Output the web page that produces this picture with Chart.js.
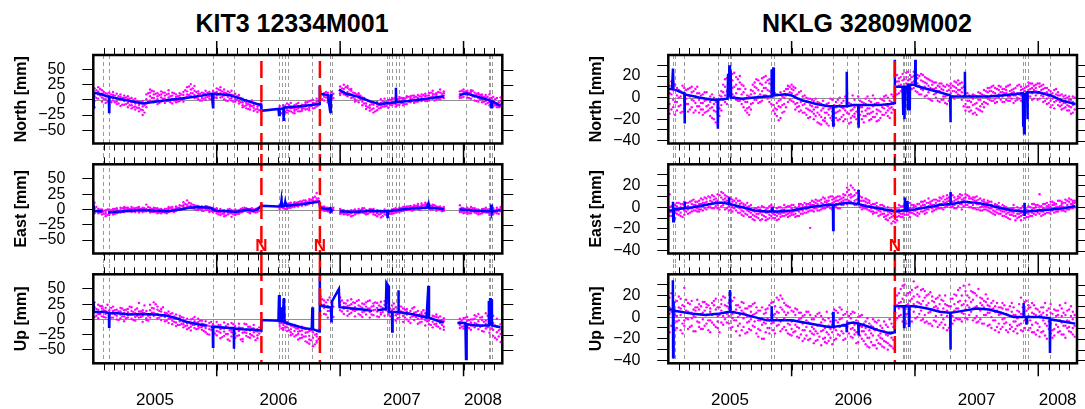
<!DOCTYPE html>
<html>
<head>
<meta charset="utf-8">
<script src="https://cdn.jsdelivr.net/npm/chart.js@4.4.1/dist/chart.umd.min.js"></script>
<style>
  body { margin: 0; background: #fff; width: 1085px; height: 409px; position: relative; overflow: hidden;
         font-family: "Liberation Sans", Arial, sans-serif; }
  .title { position: absolute; top: 9px; width: 400px; text-align: center; font-weight: bold;
           font-size: 25px; line-height: 28px; color: #000; }
  canvas { position: absolute; }
</style>
</head>
<body>
<div class="title" style="left:92px">KIT3 12334M001</div>
<div class="title" style="left:667px">NKLG 32809M002</div>
<script>
// ----- Axis data -----
const xStart = 2005.0;
const xEnd = 2008.314;
const yearLabels = ["2005", "2006", "2007", "2008"];
const yearLabelPos = [2005.5, 2006.5, 2007.5, 2008.157];
const yearLines = [2006, 2007, 2008];

const kitYTicks = [-50, -25, 0, 25, 50];
const kitYLabels = [-50, -25, 0, 25, 50];
const nklgYTicks = [-40, -30, -20, -10, 0, 10, 20, 30];
const nklgYLabels = [-40, -20, 0, 20];

// grey dashed: equipment changes / events, red dashed: offsets
const kitBreaks = [2005.078, 2005.128, 2005.971, 2006.138, 2006.507, 2006.529, 2006.557, 2006.579, 2006.775,
  2006.92, 2006.934, 2007.38, 2007.394, 2007.422, 2007.45, 2007.478, 2007.52, 2007.715, 2008.022,
  2008.203, 2008.217, 2008.231];
const kitOffsets = [2006.362, 2006.836];
const nklgBreaks = [2005.039, 2005.056, 2005.131, 2005.401, 2005.484, 2005.498, 2005.507, 2005.835, 2005.854,
  2006.336, 2006.447, 2006.542, 2006.904, 2006.915, 2006.926, 2006.94, 2006.959, 2007.288, 2007.405,
  2007.878, 2007.894, 2007.914, 2008.095];
const nklgOffsets = [2006.837];

// ----- KIT3 daily solutions -----
const kitDotYears = [
  2005.01,2005.04,2005.07,2005.10,2005.13,2005.16,2005.19,2005.22,2005.25,2005.28,2005.31,2005.34,2005.37,2005.40,2005.43,2005.46,2005.49,2005.52,2005.55,2005.58,2005.61,2005.64,2005.67,2005.70,2005.73,2005.76,2005.79,2005.82,2005.85,2005.88,2005.91,2005.94,2005.97,
  2006.00,2006.03,2006.06,2006.09,2006.12,2006.15,2006.18,2006.21,2006.24,2006.27,2006.30,2006.33,2006.36,2006.51,2006.54,2006.57,2006.60,2006.63,2006.66,2006.69,2006.72,2006.75,2006.78,2006.81,2006.84,2006.87,2006.90,2006.93,
  2007.00,2007.03,2007.06,2007.09,2007.12,2007.15,2007.18,2007.21,2007.24,2007.27,2007.30,2007.33,2007.36,2007.39,2007.42,2007.45,2007.48,2007.51,2007.54,2007.57,2007.60,2007.63,2007.66,2007.69,2007.72,2007.75,2007.78,2007.81,2007.84,2007.97,
  2008.00,2008.03,2008.06,2008.09,2008.12,2008.15,2008.18,2008.21,2008.24,2008.27,2008.30
];
const kitNorthDots = [
  [19,6,-2,-12],[14,21,9,2],[4,16,10,-3],[11,-5,6,1],[-9,3,12,7],[8,-1,4,13],[-7,10,2,-3],[5,-10,0,9],[-2,7,-8,3],[-12,1,6,-5],[3,-9,-4,-14],[-6,2,-11,-16],[-19,-8,-3,-13],[-25,-11,-17,-2],[-6,9,1,-12],[17,6,12,-1],[3,14,-4,9],[-7,6,1,11],[9,-3,4,14],[2,12,-5,7],[16,4,-2,10],[-6,7,1,12],[5,-4,9,0],[-2,11,3,7],[13,1,8,-3],[21,5,14,9],[11,26,17,6],[23,8,15,3],[6,14,1,10],[12,-1,7,3],[4,15,9,0],[10,2,13,6],[-4,8,15,3],
  [7,19,13,3],[16,4,11,21],[1,12,7,17],[9,-2,14,5],[3,15,-1,8],[10,-3,5,1],[-6,4,-2,8],[-9,2,-4,-12],[-14,-5,0,-9],[-3,-16,-8,-11],[-13,-5,-18,-9],[-20,-7,-15,-11],[-12,-6,-16,-9],
  [-19,-10,-24,-14],[-9,-23,-15,-26],[-17,-6,-21,-12],[-11,-19,-5,-14],[-22,-9,-15,-18],[-5,-14,-19,-10],[-15,-8,-12,-18],[-4,-11,-16,-7],[-13,-2,-17,-9],[-8,0,-14,-5],[2,-11,-6,-3],
  [14,3,9,6],[5,11,-1,8],[-4,9,2,12],[7,13,1,5],
  [11,22,16,8],[18,9,25,13],[6,20,13,23],[15,3,9,18],[1,11,6,-3],[8,-4,3,11],[-9,4,-3,1],[-15,-6,0,-10],[-3,-18,-9,-13],[-21,-8,-14,-4],[-11,-3,-17,-7],[-5,-13,1,-9],[-8,2,-11,-4],[-13,-1,-6,0],[1,-9,-4,3],[-11,-3,4,-7],[2,-8,5,-2],[-5,3,-9,1],[4,-2,6,-7],[-4,6,0,3],[7,-1,4,-5],[0,8,-3,3],[9,2,5,-2],[-2,6,10,1],[11,3,7,-1],[2,15,6,10],[8,0,11,4],[17,5,12,1],[3,11,7,14],[9,3,14,6],
  [17,10,5,13],[8,15,4,11],[13,2,9,16],[5,12,-1,7],[-3,9,3,11],[6,-4,1,9],[-7,4,8,-2],[2,-9,9,-4],[-11,-2,5,-7],[-6,3,-12,-9],[4,-11,-7,-2]
];
const kitEastDots = [
  [11,-3,2,-6],[-1,-6,-3,1],[-4,0,-8,-2],[-11,-4,-1,-7],[-3,-9,-6,0],[1,-5,-2,-8],[-6,2,-3,0],[-1,-5,3,-3],[2,-4,0,4],[-3,3,0,-1],[1,-2,4,-4],[-4,2,-1,0],[4,-2,1,-5],[-1,3,-4,0],[8,-3,1,-1],[-5,0,3,-2],[1,-4,-1,3],[-3,2,-6,-1],[-6,0,-3,1],[-2,-5,1,-3],[2,-1,-4,4],[-2,4,1,-3],[5,0,2,-2],[1,7,3,-1],[4,12,7,1],[15,3,8,5],[6,10,2,4],[3,7,1,5],[6,1,4,-1],[0,5,2,-2],[4,-1,2,6],[-2,3,0,-4],[1,-4,-2,3],
  [-6,0,-3,2],[-9,-2,-5,1],[-4,-11,-1,-7],[-2,-8,0,-5],[-12,-3,-6,-1],[-5,-9,0,-3],[-3,-7,-1,-5],[0,-4,2,-2],[2,-1,-3,1],[-5,1,-2,-6],[-1,-4,0,-3],[2,-2,1,-4],[7,3,9,5],
  [3,8,5,1],[6,2,9,4],[9,4,1,7],[5,11,7,3],[10,6,4,12],[7,12,9,5],[13,8,11,6],[9,15,12,7],[14,10,17,11],[19,12,15,10],[15,27,18,12],
  [5,1,3,-2],[2,-2,5,0],[-3,1,3,-1],[1,-4,2,-2],
  [-5,-2,-7,1],[-3,-8,-1,-6],[-9,-4,-2,-7],[-1,-6,-11,-3],[-5,-2,-8,0],[-3,1,-6,-4],[0,-5,-2,2],[-6,-1,-8,-3],[1,-3,-5,-1],[-8,-2,-5,1],[-4,-11,-1,-6],[-7,-2,-13,-4],[-3,-8,0,-5],[-1,-6,-12,-3],[-5,-1,-7,0],[1,-3,-5,2],[-2,3,-4,0],[4,0,-2,2],[1,5,-1,3],[6,2,-1,4],[3,7,0,5],[9,4,1,6],[2,7,10,4],[5,11,2,8],[7,3,9,1],[4,8,0,6],[1,5,-2,3],[3,-1,5,1],[-2,2,0,4],[7,-2,1,-4],
  [-3,1,-6,2],[-7,-1,-4,3],[4,-3,0,-6],[-1,-5,2,-3],[-8,-2,0,-5],[-4,1,-6,-2],[0,-5,3,-3],[-9,-2,1,-6],[2,-4,-8,0],[-3,3,-1,-6],[1,-3,4,-1]
];
const kitUpDots = [
  [28,12,20,4],[9,24,16,2],[18,5,13,22],[3,14,9,19],[15,-2,7,12],[21,10,3,14],[6,16,11,0],[13,2,19,8],[-3,10,5,15],[12,3,17,7],[1,9,14,20],[16,4,-2,10],[8,27,13,3],[-4,11,6,15],[14,2,9,-1],[24,8,15,3],[11,28,18,6],[2,16,9,21],[13,-1,6,17],[4,11,-3,8],[-6,7,13,1],[10,-2,4,-8],[-5,3,8,-11],[2,-9,-3,6],[-13,-4,3,-8],[-6,1,-16,-10],[-18,-7,-12,0],[-3,-14,-9,4],[-11,-4,1,-15],[-7,-17,-2,-12],[-21,-9,-14,-3],[-6,-25,-16,-11],[-29,-14,-20,-8],
  [-12,-26,-4,-19],[-22,-9,-16,-31],[-15,-5,-27,-20],[-8,-24,-13,-33],[-28,-17,-6,-21],[-11,-23,-30,-15],[-19,-7,-26,-13],[-32,-14,-22,-36],[-17,-27,-8,-22],[-24,-12,-30,-18],[-9,-21,-28,-15],[-26,-16,-20,-31],[10,-12,-4,-20],
  [-3,-11,-7,2],[-14,-5,-9,-17],[-8,-19,-13,-4],[-21,-10,-16,-26],[-13,-28,-19,-9],[-24,-15,-33,-20],[-18,-30,-12,-25],[-36,-22,-28,-16],[-27,-40,-19,-33],[-21,-44,-30,-14],[-35,-24,-38,-28],
  [38,14,26,6],[9,31,19,24],[22,3,14,32],[12,27,-2,18],
  [24,36,15,29],[18,9,27,21],[31,14,22,6],[11,25,33,17],[20,5,14,27],[9,23,17,32],[26,12,4,19],[15,28,8,21],[3,18,31,12],[22,7,15,26],[13,27,5,19],[29,11,21,8],[17,30,24,6],[8,19,27,13],[23,4,15,11],[-2,12,20,7],[15,3,9,22],[6,18,-4,11],[13,0,8,17],[-6,9,3,14],[11,20,-1,6],[1,14,7,-7],[9,-4,12,2],[-10,5,-1,10],[3,-8,13,-2],[-13,6,-4,1],[-7,4,-11,8],[-2,-15,5,-6],[-12,-3,2,-17],[-9,1,-14,-4],
  [-15,-6,2,-11],[4,-12,-2,-8],[-10,0,-17,-5],[7,-6,-13,1],[-3,9,-9,-16],[-19,-1,4,-11],[10,-7,-15,-2],[-22,1,13,-9],[-6,-17,6,-27],[-33,-12,1,-21],[-24,-37,-8,-16]
];
// second reading set, between the epochs above
const kitDotYearsB = [
  2005.025,2005.055,2005.085,2005.115,2005.145,2005.175,2005.205,2005.235,2005.265,2005.295,2005.325,2005.355,2005.385,2005.415,2005.445,2005.475,2005.505,2005.535,2005.565,2005.595,2005.625,2005.655,2005.685,2005.715,2005.745,2005.775,2005.805,2005.835,2005.865,2005.895,2005.925,2005.955,2005.985,
  2006.015,2006.045,2006.075,2006.105,2006.135,2006.165,2006.195,2006.225,2006.255,2006.285,2006.315,2006.345,2006.525,2006.555,2006.585,2006.615,2006.645,2006.675,2006.705,2006.735,2006.765,2006.795,2006.825,2006.855,2006.885,2006.915,2006.945,
  2007.015,2007.045,2007.075,2007.105,2007.135,2007.165,2007.195,2007.225,2007.255,2007.285,2007.315,2007.345,2007.375,2007.405,2007.435,2007.465,2007.495,2007.525,2007.555,2007.585,2007.615,2007.645,2007.675,2007.705,2007.735,2007.765,2007.795,2007.825,2007.985,
  2008.015,2008.045,2008.075,2008.105,2008.135,2008.165,2008.195,2008.225,2008.255,2008.285
];
const kitNorthDotsB = [
  [16,3],[7,18],[13,1],[-3,10],[9,-4],[-4,7],[6,-6],[-8,3],[4,-7],[-9,2],[-12,0],[-2,-13],[-16,-4],[-21,-9],[11,-3],[3,15],[10,-2],[-5,8],[12,2],[-2,9],[6,-4],[11,-1],[-3,6],[9,0],[16,4],[8,22],[19,11],[4,13],[10,-1],[2,11],[12,5],[1,9],[12,4],
  [17,9],[5,14],[11,-1],[2,12],[8,-3],[0,6],[-4,3],[-11,-2],[-7,-15],[-10,-1],[-16,-6],[-9,-17],
  [-15,-22],[-11,-20],[-18,-8],[-13,-21],[-7,-16],[-19,-12],[-9,-14],[-15,-4],[-10,-1],[-6,-13],[-2,-9],
  [9,1],[13,4],[-2,6],[10,3],
  [19,12],[8,21],[17,10],[4,12],[9,-1],[1,7],[-6,3],[-12,-2],[-7,-16],[-19,-5],[-9,-14],[-2,-11],[-10,-3],[0,-8],[-6,2],[-9,1],[3,-5],[-7,2],[5,-3],[1,7],[-3,5],[6,-1],[0,8],[7,-2],[4,12],[9,-1],[2,13],[10,4],[15,4],
  [9,14],[12,3],[6,15],[10,-2],[1,8],[-3,5],[5,-5],[-8,3],[1,-9],[-12,-4]
];
const kitEastDotsB = [
  [-2,4],[-5,0],[-7,-2],[0,-9],[-4,-1],[-7,1],[-2,-5],[2,-4],[-1,3],[1,-3],[-3,2],[3,-1],[-2,1],[2,-3],[-1,4],[1,-4],[-4,2],[0,-5],[-4,-1],[1,-6],[-3,3],[0,-4],[3,-1],[6,0],[9,2],[5,11],[2,8],[6,-1],[1,4],[3,-2],[0,5],[2,-3],[-3,1],
  [-4,-8],[-2,-7],[-10,-3],[-6,1],[-8,-2],[-2,-7],[-5,1],[-2,3],[0,-4],[-3,2],[1,-5],[3,-2],
  [4,9],[7,1],[3,10],[8,5],[11,6],[8,13],[10,15],[12,8],[16,11],[13,21],[18,14],
  [4,-1],[-2,3],[2,-4],[-1,3],
  [-1,-6],[-7,-3],[-4,-8],[-10,-2],[-3,-6],[-1,-5],[-6,2],[-2,-7],[-4,0],[-9,-3],[-2,-8],[-5,-11],[-9,-2],[-3,-7],[-6,1],[0,-4],[-3,2],[4,-1],[0,5],[-2,4],[2,6],[4,-1],[7,3],[3,9],[6,0],[2,7],[0,4],[-3,2],[-4,3],
  [-5,1],[1,-6],[-3,2],[-6,0],[-2,-7],[1,-4],[-5,0],[2,-8],[-2,-5],[0,-7]
];
const kitUpDotsB = [
  [17,6],[22,9],[4,15],[11,24],[19,3],[8,15],[13,-1],[5,18],[16,2],[9,21],[-1,12],[18,6],[4,13],[10,23],[6,-2],[19,11],[9,25],[14,3],[20,7],[-2,10],[9,2],[-4,5],[1,-9],[-7,4],[-11,-2],[-4,-14],[-9,1],[-16,-6],[-2,-13],[-19,-8],[-10,-24],[-17,-4],[-23,-12],
  [-20,-9],[-29,-14],[-11,-24],[-18,-35],[-8,-22],[-27,-16],[-14,-33],[-21,-7],[-29,-12],[-15,-26],[-34,-19],[-13,-23],
  [-6,-15],[-12,-2],[-18,-8],[-11,-24],[-26,-15],[-19,-31],[-28,-13],[-21,-38],[-34,-18],[-41,-25],[-17,-32],
  [21,33],[28,8],[14,36],[4,21],
  [31,13],[20,26],[9,23],[28,15],[16,30],[21,7],[13,25],[30,18],[8,21],[16,28],[23,4],[12,19],[26,15],[5,18],[17,26],[9,2],[21,13],[3,16],[10,-3],[18,5],[4,12],[-5,8],[6,15],[-3,9],[1,-9],[-8,5],[3,-12],[-9,-1],[-2,-12],
  [-8,3],[-14,-1],[0,-10],[-7,5],[-12,3],[-4,-20],[6,-13],[-15,3],[-10,-30],[-18,-28]
];

// ----- KIT3 model (blue), [year, mm], y null = gap -----
const kitNorthLine = [
  [2005.0,12],[2005.002,-15],[2005.004,12],[2005.05,10],[2005.126,5],[2005.128,-20],[2005.13,5],[2005.25,0],[2005.35,-4],[2005.40,-6],[2005.50,-3],[2005.62,0],[2005.75,3],[2005.88,7],[2005.96,10],[2005.970,-12],[2005.972,10],
  [2006.10,8],[2006.15,5],[2006.25,-2],[2006.33,-7],[2006.360,-8],[2006.362,-18],[2006.50,-15],[2006.505,-25],[2006.51,-15],[2006.54,-14],[2006.543,-35],[2006.546,-13],[2006.70,-10],[2006.83,-7],[2006.835,23],[2006.838,10],[2006.90,8],[2006.92,-20],[2006.925,8],[2006.94,8],[2006.96,null],
  [2006.99,17],[2007.05,10],[2007.15,5],[2007.25,-3],[2007.32,-7],[2007.40,-5],[2007.45,-4],[2007.452,20],[2007.455,-4],[2007.55,-2],[2007.70,2],[2007.84,6],[2007.90,null],
  [2007.97,8],[2008.02,11],[2008.10,6],[2008.20,0],[2008.22,-2],[2008.225,-12],[2008.23,-2],[2008.30,-10]
];
const kitEastLine = [
  [2005.0,0],[2005.003,8],[2005.006,-3],[2005.075,-3],[2005.10,null],[2005.12,-5],[2005.30,-2],[2005.40,-1],[2005.50,-2],[2005.60,-3],[2005.70,0],[2005.78,3],[2005.85,4],[2005.95,3],[2005.97,0],
  [2006.00,-2],[2006.10,-3],[2006.15,-4],[2006.20,-2],[2006.25,0],[2006.30,-2],[2006.33,0],[2006.36,6],[2006.50,5],[2006.52,6],[2006.525,15],[2006.53,5],[2006.55,6],[2006.555,12],[2006.56,6],[2006.70,9],[2006.83,13],[2006.838,3],[2006.90,0],[2006.92,2],[2006.925,-3],[2006.94,0],[2006.96,null],
  [2007.00,-3],[2007.10,-4],[2007.20,-3],[2007.25,-2],[2007.30,-3],[2007.38,-3],[2007.385,-14],[2007.39,-3],[2007.50,0],[2007.60,2],[2007.70,3],[2007.715,10],[2007.72,3],[2007.80,2],[2007.84,0],[2007.90,null],
  [2007.97,0],[2008.10,-2],[2008.20,-3],[2008.22,-3],[2008.225,8],[2008.23,-6],[2008.235,-3],[2008.30,-1]
];
const kitUpLine = [
  [2005.0,15],[2005.002,28],[2005.004,12],[2005.10,12],[2005.126,10],[2005.128,-12],[2005.13,10],[2005.20,10],[2005.30,8],[2005.40,9],[2005.50,8],[2005.60,6],[2005.70,0],[2005.75,-4],[2005.80,-6],[2005.90,-10],[2005.92,-10],[2005.935,null],
  [2005.95,-12],[2005.968,-12],[2005.97,-45],[2005.972,-12],[2006.10,-14],[2006.138,-14],[2006.14,-48],[2006.142,-15],[2006.20,-16],[2006.30,-17],[2006.36,-18],[2006.362,-1],[2006.50,-2],[2006.505,40],[2006.51,-5],[2006.525,20],[2006.53,-5],[2006.545,35],[2006.55,-5],[2006.60,-8],[2006.70,-14],[2006.77,-16],[2006.775,20],[2006.78,-16],[2006.83,-20],[2006.835,70],[2006.838,25],[2006.85,23],[2006.90,20],[2006.925,20],[2006.93,-5],[2006.935,30],[2006.99,50],[2006.995,20],
  [2007.10,18],[2007.20,16],[2007.26,14],[2007.28,null],[2007.30,15],[2007.37,17],[2007.375,60],[2007.39,55],[2007.395,12],[2007.42,12],[2007.422,-20],[2007.425,12],[2007.47,12],[2007.472,48],[2007.475,12],[2007.60,8],[2007.70,3],[2007.715,55],[2007.72,3],[2007.80,-3],[2007.84,-5],[2007.90,null],
  [2007.95,-6],[2008.015,-6],[2008.02,-65],[2008.025,-8],[2008.10,-10],[2008.20,-10],[2008.205,30],[2008.21,-10],[2008.215,35],[2008.22,-10],[2008.225,33],[2008.23,-10],[2008.30,-13]
];

// ----- NKLG daily solutions -----
const nklgDotYears = [
  2005.01,2005.04,2005.07,2005.10,2005.13,2005.16,2005.19,2005.22,2005.25,2005.28,2005.31,2005.34,2005.37,2005.40,2005.43,2005.46,2005.49,2005.52,2005.55,2005.58,2005.61,2005.64,2005.67,2005.70,2005.73,2005.76,2005.79,2005.82,2005.85,2005.88,2005.91,2005.94,2005.97,
  2006.00,2006.03,2006.06,2006.09,2006.12,2006.15,2006.18,2006.21,2006.24,2006.27,2006.30,2006.33,2006.36,2006.39,2006.42,2006.45,2006.48,2006.51,2006.54,2006.57,2006.60,2006.63,2006.66,2006.69,2006.72,2006.75,2006.78,2006.81,2006.84,2006.87,2006.90,2006.93,2006.96,2006.99,
  2007.02,2007.05,2007.08,2007.11,2007.14,2007.17,2007.20,2007.23,2007.26,2007.29,2007.32,2007.35,2007.38,2007.41,2007.44,2007.47,2007.50,2007.53,2007.56,2007.59,2007.62,2007.65,2007.68,2007.71,2007.74,2007.77,2007.80,2007.83,2007.86,2007.89,2007.92,2007.95,2007.98,
  2008.01,2008.04,2008.07,2008.10,2008.13,2008.16,2008.19,2008.22,2008.25,2008.28
];
const nklgNorthDots = [
  [11,-6,4,-15],[-9,7,13,-2],[2,-12,9,-4],[-7,6,-14,1],[9,-3,-10,4],[-13,2,-6,8],[5,-9,10,-2],[-5,8,-12,1],[-14,-2,4,-8],[3,-11,-5,-16],[-8,5,-13,-2],[-17,-4,1,-10],[-6,-20,-12,0],[-25,-9,-15,-3],[6,-7,1,-12],[17,2,10,-4],[8,21,13,1],[16,3,22,9],[4,12,19,-2],[14,-3,8,20],[-9,5,-2,11],[-14,-4,2,-10],[3,-11,-6,7],[10,-2,14,4],[-5,16,7,1],[18,6,12,-3],[2,20,9,14],[13,-4,17,6],[-7,9,1,-12],[-17,-5,3,-11],[-2,-19,-9,5],[6,-13,0,-6],[11,-4,3,8],
  [4,12,-3,8],[-6,9,2,-11],[-13,-1,5,-8],[1,-14,-7,-3],[-10,-4,-16,0],[-18,-7,-12,-1],[-3,-20,-11,-15],[-23,-9,-14,-4],[-12,-25,-6,-18],[-19,-8,-22,-14],[-5,-16,-26,-11],[-21,-13,-2,-17],[-9,-19,-4,-14],[0,-12,-7,-20],[-16,-3,-10,-22],[-8,4,-14,-1],[-19,-6,-12,-23],[-2,-15,-9,-18],[-24,-11,1,-7],[-13,-4,-20,-9],[-6,-17,-1,-12],[-21,-10,-15,-3],[-8,2,-13,-18],[-15,-5,-22,-11],[-1,-13,-7,-19],[-10,-3,-16,1],[-17,-8,0,-12],[-4,-14,3,-9],[20,7,14,2],[11,18,4,15],[22,8,16,5],[13,19,7,23],[17,6,21,11],[9,20,15,24],
  [18,5,13,21],[8,16,22,3],[14,1,19,10],[5,17,-1,11],[12,-3,8,15],[0,9,14,4],[10,-4,6,13],[-2,7,11,1],[6,-6,12,2],[-3,9,4,13],[15,6,10,-1],[3,12,7,16],[9,-2,14,5],[-6,4,-12,1],[-13,-3,2,-9],[-1,-15,-7,3],[-10,1,-5,-16],[4,-8,-2,-12],[-4,7,-9,2],[9,-1,5,-6],[2,10,-3,6],[-5,4,9,-1],[7,0,11,3],[1,8,-4,5],[10,-2,4,7],[-3,6,1,12],[8,2,-5,5],[0,11,4,-2],[7,-3,10,2],[3,9,-1,6],[11,1,7,14],[4,13,-2,9],[9,2,12,6],
  [-1,10,5,13],[8,-4,12,1],[-6,5,9,-1],[3,-9,6,-3],[-4,7,-10,1],[5,-7,-2,2],[-11,-3,3,-7],[-1,-9,-5,2],[-12,-2,-8,1],[-7,1,-14,-4]
];
const nklgEastDots = [
  [12,-5,0,-8],[-2,-7,3,-10],[1,-6,-3,4],[-5,3,-8,0],[2,-3,5,-7],[-6,1,-2,4],[3,-4,6,-1],[-3,5,0,2],[6,-2,3,-4],[1,7,-3,4],[8,2,-2,5],[0,6,3,9],[7,-1,10,4],[2,12,6,-1],[9,4,14,1],[5,-2,8,11],[1,9,4,-3],[7,0,5,-4],[-3,4,1,8],[3,-5,-1,6],[-4,3,-8,1],[0,-7,-3,4],[-9,-2,-5,2],[-1,-8,-12,-4],[-6,0,-10,-3],[-11,-4,-7,1],[-2,-9,-5,-12],[-7,1,-4,-10],[-10,-3,-6,0],[-5,-12,-1,-8],[0,-6,-9,-3],[-8,-2,-5,2],[-4,1,-9,-6],
  [-1,-7,2,-5],[-6,0,-9,-3],[1,-4,-8,3],[-3,2,-6,0],[3,-2,-5,1],[-19,2,-3,4],[5,-1,2,-4],[0,6,-3,3],[4,-2,7,1],[8,2,-1,5],[1,6,9,3],[7,-2,4,10],[3,9,0,6],[10,4,7,-1],[6,12,2,9],[14,7,18,3],[9,20,12,5],[16,6,11,2],[4,13,8,15],[9,1,6,-2],[-1,5,2,8],[4,-3,1,6],[-4,3,0,-6],[1,-5,-2,4],[-7,-1,-4,2],[-3,-9,1,-6],[-12,-4,-7,0],[-6,-15,-2,-9],[-1,-11,-7,-14],[-8,-2,-5,2],[1,-6,-9,-3],[-4,2,-7,0],[-9,-1,4,-5],[0,-6,2,-3],
  [-5,3,-2,-8],[1,-4,5,-1],[-3,6,-6,2],[4,-2,8,1],[-1,6,2,-4],[7,0,4,-2],[3,9,-1,6],[-2,5,10,2],[8,1,5,11],[4,12,0,7],[9,2,6,-1],[1,10,5,8],[11,3,7,-2],[5,9,2,12],[8,0,10,4],[2,7,-1,9],[6,-2,3,10],[0,8,4,-3],[5,-2,7,1],[-3,4,0,6],[2,-5,5,-1],[-4,3,-7,0],[1,-6,-2,4],[-8,-1,-4,2],[-3,-9,0,-6],[-7,-2,-11,-4],[-1,-8,-5,2],[-10,-3,-6,0],[-5,-12,-1,-8],[0,-7,-3,-10],[-6,1,-9,-3],[-2,-8,3,-5],[2,-4,-7,0],
  [12,-2,-6,1],[-4,3,-1,-7],[1,-5,4,-2],[-3,5,-6,0],[4,-1,2,-5],[-2,6,0,-4],[3,-3,5,1],[-1,4,-4,7],[5,0,8,-2],[2,6,-1,4]
];
const nklgUpDots = [
  [-14,18,3,9],[11,-19,6,20],[-4,15,1,-10],[8,-12,17,2],[27,-3,10,-8],[-11,13,5,-2],[4,-8,15,-1],[-13,9,0,6],[12,-5,7,-9],[-2,14,-11,4],[9,-6,2,12],[-14,5,-3,8],[15,-7,3,11],[-4,9,-10,1],[6,16,-5,12],[-2,11,4,18],[13,-6,8,1],[-9,15,3,-1],[7,-13,11,-3],[-17,2,9,-6],[13,-9,4,-1],[-5,8,-14,1],[-12,5,-2,10],[3,-9,13,-4],[-18,-3,6,-11],[-7,9,-20,-1],[4,-14,-6,7],[-10,11,-3,-15],[14,-5,2,-12],[-8,18,5,-2],[20,-4,9,-13],[-9,13,-1,5],[4,-15,-6,10],
  [-17,6,-4,-11],[2,-13,8,-7],[-19,-2,-10,4],[-6,-22,1,-12],[5,-9,-17,-3],[-20,-6,2,-13],[-2,-24,-11,-16],[-15,3,-8,-21],[-26,-5,-13,1],[-10,-19,-3,-23],[-22,-1,-16,-8],[3,-14,-25,-7],[-12,6,-20,-3],[9,-9,-2,-17],[-15,2,-7,-21],[-4,-13,5,-9],[-18,-1,-11,3],[4,-16,-7,-12],[-23,-5,-14,0],[-9,-20,2,-13],[-25,-4,-16,-10],[-12,-28,-6,-19],[-2,-17,-26,-9],[-21,-11,-29,-5],[-15,-25,-8,-19],[-28,-13,-4,-22],[-9,-24,-17,-30],[-19,-6,-27,-14],[27,4,16,-3],[8,22,1,13],[17,-4,29,9],[3,20,11,-6],[23,7,15,0],[12,33,5,19],
  [21,0,14,28],[6,25,-3,12],[18,2,24,-5],[-6,13,21,4],[15,-8,7,19],[1,17,-4,10],[12,-7,20,5],[-10,8,15,-2],[6,-12,11,1],[17,-5,3,10],[-3,12,21,6],[14,-2,8,25],[4,20,11,-4],[24,7,15,-1],[9,30,18,2],[16,-3,23,8],[1,20,10,-5],[13,-2,18,6],[-6,9,15,2],[11,-8,4,17],[-10,7,13,0],[5,-12,10,-3],[-14,2,9,-6],[8,-9,13,-2],[-12,3,-5,7],[10,-7,1,-11],[-4,9,-13,2],[-15,-1,6,-8],[18,-6,3,-12],[-3,14,-10,5],[8,-12,1,11],[-7,4,13,-14],[2,-16,8,-5],
  [-9,5,-18,1],[9,-13,-3,4],[-20,2,-8,6],[4,-15,12,-6],[-11,7,-3,-17],[2,-9,6,-14],[-16,8,-5,1],[13,-8,-19,2],[-4,7,-13,-9],[5,-10,-16,-2]
];
// second reading set, between the epochs above
const nklgDotYearsB = [
  2005.025,2005.055,2005.085,2005.115,2005.145,2005.175,2005.205,2005.235,2005.265,2005.295,2005.325,2005.355,2005.385,2005.415,2005.445,2005.475,2005.505,2005.535,2005.565,2005.595,2005.625,2005.655,2005.685,2005.715,2005.745,2005.775,2005.805,2005.835,2005.865,2005.895,2005.925,2005.955,2005.985,
  2006.015,2006.045,2006.075,2006.105,2006.135,2006.165,2006.195,2006.225,2006.255,2006.285,2006.315,2006.345,2006.375,2006.405,2006.435,2006.465,2006.495,2006.525,2006.555,2006.585,2006.615,2006.645,2006.675,2006.705,2006.735,2006.765,2006.795,2006.825,2006.855,2006.885,2006.915,2006.945,2006.975,
  2007.005,2007.035,2007.065,2007.095,2007.125,2007.155,2007.185,2007.215,2007.245,2007.275,2007.305,2007.335,2007.365,2007.395,2007.425,2007.455,2007.485,2007.515,2007.545,2007.575,2007.605,2007.635,2007.665,2007.695,2007.725,2007.755,2007.785,2007.815,2007.845,2007.875,2007.905,2007.935,2007.965,2007.995,
  2008.025,2008.055,2008.085,2008.115,2008.145,2008.175,2008.205,2008.235,2008.265,2008.295
];
const nklgNorthDotsB = [
  [3,-11,15],[12,-4,-16],[-8,7,0],[4,-13,11],[-6,7,-1],[9,-11,1],[-3,6,-14],[4,-8,10],[-11,2,-5],[-3,5,-14],[-12,-1,-7],[-9,3,-19],[-23,-4,-13],[-10,2,-17],[12,-2,5],[6,18,-6],[19,5,12],[10,23,1],[17,-3,8],[3,12,-6],[-4,8,-12],[-9,1,-16],[6,-5,12],[-2,9,17],[13,3,-4],[9,19,2],[16,-1,7],[5,12,-6],[-10,4,-15],[-3,-21,-8],[-14,1,-7],[2,-9,8],[-2,10,5],
  [7,-4,10],[-9,3,-5],[-4,-12,6],[-14,-6,2],[-1,-11,-19],[-13,-2,-8],[-9,-17,-1],[-16,-5,-24],[-3,-21,-10],[-14,-24,-6],[-10,-1,-19],[-25,-7,-15],[-2,-13,-21],[-18,-9,-5],[-12,-20,1],[-5,-15,-24],[-11,2,-17],[-20,-7,-13],[-3,-16,-9],[-17,-23,-5],[-10,1,-15],[-14,-4,-20],[-6,-18,-1],[-12,-21,-5],[-16,-2,-9],[-7,-14,2],[-19,-3,-10],[-11,1,-6],[15,3,21],[6,19,12],[17,9,3],[24,11,16],[8,19,14],
  [16,23,6],[11,3,20],[21,7,15],[2,13,18],[9,16,-2],[14,3,8],[-3,11,6],[8,-2,13],[1,10,-5],[7,-3,11],[11,1,6],[5,14,9],[13,2,7],[1,-8,10],[-9,4,-3],[-4,-12,1],[-14,-6,2],[-2,-11,5],[3,-6,-13],[-5,6,1],[6,-2,9],[-3,5,11],[8,1,-4],[-2,10,5],[4,-4,8],[11,1,-3],[-1,7,4],[9,-3,2],[3,12,-1],[-4,8,1],[10,2,5],[1,8,13],[7,-1,11],[13,4,-2],
  [2,11,7],[-3,9,4],[7,-5,1],[-7,4,-1],[3,-3,8],[-8,2,-4],[1,-10,-5],[-7,0,-12],[-2,-9,-15],[-11,0,-6]
];
const nklgEastDotsB = [
  [-8,1,-4],[2,-5,-10],[-3,4,-7],[-9,-1,3],[4,-4,0],[-1,5,-5],[2,-3,7],[5,-1,-4],[-2,8,3],[4,-1,9],[10,3,0],[5,-1,11],[1,8,5],[11,4,-2],[7,13,2],[-1,6,10],[3,8,-2],[6,-1,2],[0,6,-5],[-3,4,-7],[-6,2,-1],[-9,-4,1],[-3,-7,-11],[-6,-1,-9],[-12,-5,-2],[0,-8,-4],[-5,-11,-1],[-8,-2,2],[-4,-10,-7],[-11,-6,0],[-2,-8,-5],[-7,0,-4],[1,-5,-8],
  [-4,2,-7],[-8,-1,-3],[-2,3,-6],[0,-5,4],[-4,3,-1],[2,-3,6],[-1,4,7],[6,1,-3],[3,9,-1],[6,0,4],[10,3,-1],[5,8,1],[-1,6,10],[8,2,5],[4,11,7],[16,6,11],[10,18,4],[13,7,2],[6,10,0],[2,6,-1],[-2,4,7],[2,-4,-1],[-5,-1,3],[-3,-8,0],[-1,-6,2],[-8,-3,-11],[-5,-10,-2],[-13,-4,-8],[-9,-2,-12],[-6,1,-9],[-2,-7,2],[-7,-1,-4],[2,-5,-2],
  [-3,1,-7],[-6,-1,3],[2,-4,5],[-2,4,-5],[5,0,3],[2,7,-3],[6,1,-1],[-1,8,3],[4,7,0],[9,2,6],[5,11,1],[7,-1,4],[3,9,12],[8,1,6],[11,5,2],[4,8,0],[-1,6,9],[3,7,-2],[1,-3,6],[4,-2,1],[-1,5,-4],[-3,1,-6],[2,-5,-2],[-6,0,-3],[-4,-8,1],[-10,-2,-5],[-4,-7,-1],[-8,-3,-12],[-2,-9,-6],[-7,-4,1],[-9,-2,-5],[-4,0,-8],[-6,-1,3],[-3,2,-5],
  [1,-4,-8],[-2,3,-6],[-5,2,0],[2,-3,5],[-4,0,3],[1,-2,6],[-3,4,0],[2,6,-2],[-1,3,7],[4,0,6]
];
const nklgUpDotsB = [
  [22,-8,5],[-12,14,2],[9,-3,19],[-6,11,-15],[16,-1,6],[-9,4,12],[7,-13,1],[-4,16,9],[-11,3,10],[6,-8,14],[-3,11,-12],[13,-5,2],[-9,7,17],[2,-14,9],[19,1,-7],[-5,10,3],[9,-10,15],[-3,18,5],[11,-8,0],[-12,6,14],[3,-15,8],[10,-4,-11],[-8,12,2],[-15,4,9],[6,-12,-3],[-20,-5,3],[8,-10,-1],[-6,13,2],[3,-15,10],[16,-7,4],[-11,7,17],[2,-12,11],[-7,9,-16],
  [5,-14,-3],[-9,7,-18],[-1,-16,4],[-12,2,-20],[-5,-21,5],[-15,-2,-9],[1,-13,-22],[-7,-18,4],[-20,-2,-12],[-14,5,-24],[-4,-19,-11],[7,-10,-21],[-16,-5,4],[-1,-13,7],[-20,-8,3],[1,-15,-6],[-10,5,-19],[-3,-14,-24],[-17,-8,1],[-6,-22,-13],[-19,-1,-27],[-8,-23,-15],[-26,-12,-4],[-17,-3,-24],[-10,-27,-20],[-23,-7,-16],[-14,-26,-2],[-21,-9,-29],[20,-1,11],[2,26,14],[30,8,-2],[12,22,3],[-4,17,25],
  [9,27,-1],[19,3,13],[-2,15,26],[11,-4,20],[23,5,-6],[-3,14,9],[8,-9,18],[16,2,-5],[-7,12,20],[10,-10,4],[1,17,-6],[20,8,-1],[-2,15,27],[12,29,3],[20,-2,11],[5,24,14],[22,-1,9],[8,26,-4],[17,-6,11],[2,14,21],[-7,10,4],[15,-3,8],[-9,6,13],[3,-11,9],[-6,11,-1],[7,-14,2],[-9,5,13],[2,-11,-4],[12,-7,5],[-13,3,9],[6,-5,15],[-10,9,-3],[3,-14,11],[-6,7,-12],
  [2,-14,9],[-6,13,-17],[8,-4,-11],[-12,3,-19],[6,-7,1],[-13,-3,11],[4,-16,-8],[-10,6,-3],[10,-14,1],[-8,2,-18]
];

// ----- NKLG model (blue) -----
const nklgNorthLine = [
  [2005.0,8],[2005.03,8],[2005.038,27],[2005.042,8],[2005.10,5],[2005.13,4],[2005.132,-24],[2005.135,3],[2005.25,0],[2005.35,-2],[2005.40,-2],[2005.402,-29],[2005.405,-2],[2005.48,-1],[2005.485,22],[2005.49,0],[2005.495,30],[2005.50,5],[2005.505,25],[2005.51,0],[2005.60,-1],[2005.70,0],[2005.80,1],[2005.835,1],[2005.838,26],[2005.842,2],[2005.852,28],[2005.856,2],[2005.95,3],
  [2006.00,2],[2006.05,-1],[2006.10,-3],[2006.20,-6],[2006.30,-8],[2006.335,-8],[2006.337,-26],[2006.34,-8],[2006.445,-8],[2006.447,24],[2006.45,-8],[2006.50,-7],[2006.54,-7],[2006.542,-28],[2006.545,-7],[2006.70,-7],[2006.80,-6],[2006.834,-5],[2006.836,35],[2006.838,10],[2006.90,10],[2006.905,-15],[2006.91,10],[2006.915,-20],[2006.92,10],[2006.94,10],[2006.942,-12],[2006.945,12],[2006.955,12],[2006.958,-12],[2006.96,12],
  [2007.00,12],[2007.003,35],[2007.006,11],[2007.10,8],[2007.20,5],[2007.285,2],[2007.288,-23],[2007.29,1],[2007.403,1],[2007.405,24],[2007.407,1],[2007.60,1],[2007.70,2],[2007.80,3],[2007.875,4],[2007.878,-26],[2007.88,3],[2007.885,-33],[2007.89,3],[2007.91,4],[2007.912,-20],[2007.915,5],
  [2008.00,5],[2008.10,2],[2008.20,-3],[2008.30,-6]
];
const nklgEastLine = [
  [2005.0,-3],[2005.035,-3],[2005.038,5],[2005.04,-13],[2005.045,-2],[2005.13,-1],[2005.132,5],[2005.135,-1],[2005.20,0],[2005.30,2],[2005.40,4],[2005.45,4],[2005.49,3],[2005.492,9],[2005.495,3],[2005.50,3],[2005.60,0],[2005.70,-3],[2005.80,-4],[2005.84,-4],[2005.842,0],[2005.845,-4],[2005.90,-4],
  [2006.00,-3],[2006.10,-1],[2006.20,1],[2006.30,2],[2006.335,2],[2006.337,-21],[2006.34,2],[2006.45,4],[2006.54,3],[2006.542,16],[2006.545,3],[2006.60,1],[2006.70,-1],[2006.80,-3],[2006.85,-4],[2006.90,-3],[2006.915,-3],[2006.918,9],[2006.92,-3],[2006.935,-3],[2006.938,6],[2006.94,-3],
  [2007.00,-2],[2007.10,0],[2007.20,2],[2007.285,3],[2007.288,14],[2007.29,3],[2007.30,3],[2007.40,5],[2007.50,4],[2007.60,2],[2007.70,-1],[2007.80,-3],[2007.885,-4],[2007.888,4],[2007.89,-8],[2007.895,-4],[2007.90,-4],
  [2008.00,-3],[2008.10,-2],[2008.20,-1],[2008.30,1]
];
const nklgUpLine = [
  [2005.0,7],[2005.035,7],[2005.037,34],[2005.039,-37],[2005.041,14],[2005.045,6],[2005.10,5],[2005.20,3],[2005.30,2],[2005.40,3],[2005.495,5],[2005.50,25],[2005.505,5],[2005.60,3],[2005.70,0],[2005.80,-3],[2005.835,-3],[2005.838,10],[2005.842,-3],[2005.90,-3],
  [2006.00,-3],[2006.10,-5],[2006.20,-7],[2006.30,-9],[2006.335,-9],[2006.337,5],[2006.34,-9],[2006.40,-8],[2006.445,-7],[2006.447,-14],[2006.45,-6],[2006.50,-5],[2006.54,-6],[2006.542,-17],[2006.545,-6],[2006.60,-8],[2006.70,-12],[2006.80,-15],[2006.834,-14],[2006.836,10],[2006.90,10],[2006.91,10],[2006.912,-9],[2006.915,10],[2006.95,10],[2006.952,-8],[2006.955,10],
  [2007.00,10],[2007.10,8],[2007.20,5],[2007.285,4],[2007.288,-30],[2007.29,4],[2007.40,6],[2007.50,8],[2007.60,7],[2007.70,4],[2007.80,0],[2007.877,0],[2007.88,13],[2007.883,0],[2007.90,0],[2007.905,-7],[2007.91,0],
  [2008.00,0],[2008.092,-1],[2008.095,-33],[2008.098,-2],[2008.20,-4],[2008.30,-6]
];

// ----- Layout -----
const FONT = '"Liberation Sans", Arial, sans-serif';
const columns = [
  { x: 0, w: 540, padR: 37.7, yMin: -72, yMax: 74, yTicks: kitYTicks, yLabels: kitYLabels, breaks: kitBreaks, reds: kitOffsets },
  { x: 575, w: 510, padR: 8, yMin: -42.6, yMax: 39.5, yTicks: nklgYTicks, yLabels: nklgYLabels, breaks: nklgBreaks, reds: nklgOffsets }
];
const rows = [
  { top: 30, h: 124, padT: 25, padB: 10.5 },
  { top: 154, h: 110, padT: 10.3, padB: 10.5 },
  { top: 264, h: 145, padT: 10.3, padB: 0, xh: 45.7 }
];

const monthTicks = [];
for (let m = 1; m <= 39; m++) monthTicks.push(2005 + m / 12);

function fmt(v) {
  return v < 0 ? "\u2212" + Math.abs(v) : String(v);
}

// ----- Decorations: box, outer ticks, event lines -----
const panelDecor = {
  id: "panelDecor",
  beforeDatasetsDraw(chart, args, o) {
    const { ctx, chartArea: a, scales: { x, y } } = chart;
    const top = o.row === 0 ? a.top : 0;
    const bottom = o.row === 2 ? a.bottom : chart.height;
    ctx.save();
    ctx.lineWidth = 1;
    ctx.strokeStyle = "#8f8f8f";
    const y0 = Math.round(y.getPixelForValue(0)) + 0.5;
    ctx.beginPath();
    ctx.moveTo(a.left, y0);
    ctx.lineTo(a.right, y0);
    ctx.stroke();

    ctx.setLineDash([4, 3]);
    ctx.strokeStyle = "#9a9a9a";
    ctx.beginPath();
    o.breaks.forEach(t => {
      const px = Math.round(x.getPixelForValue(t)) + 0.5;
      ctx.moveTo(px, top);
      ctx.lineTo(px, bottom);
    });
    ctx.stroke();
    ctx.restore();
  },
  afterDatasetsDraw(chart, args, o) {
    const { ctx, chartArea: a, scales: { x, y } } = chart;
    const H = chart.height;
    ctx.save();

    // offsets
    ctx.strokeStyle = "#ff0000";
    ctx.lineWidth = 2.5;
    ctx.setLineDash([17, 7]);
    const rTop = o.row === 0 ? a.top + 6 : 0;
    const rBot = o.row === 2 ? a.bottom : H;
    o.reds.forEach(t => {
      const px = x.getPixelForValue(t);
      ctx.beginPath();
      ctx.moveTo(px, rTop);
      ctx.lineTo(px, rBot);
      ctx.stroke();
    });
    ctx.setLineDash([]);

    if (o.row === 1) {
      ctx.fillStyle = "#ff0000";
      ctx.font = "bold 17px " + FONT;
      ctx.textAlign = "center";
      ctx.textBaseline = "alphabetic";
      o.reds.forEach(t => ctx.fillText("N", x.getPixelForValue(t), a.bottom - 3));
    }

    // month ticks and right-hand y ticks
    ctx.strokeStyle = "#000";
    ctx.lineWidth = 1;
    ctx.beginPath();
    monthTicks.forEach(t => {
      const px = Math.round(x.getPixelForValue(t)) + 0.5;
      ctx.moveTo(px, a.top - 7);
      ctx.lineTo(px, a.top);
      ctx.moveTo(px, a.bottom);
      ctx.lineTo(px, a.bottom + 7);
    });
    o.yTicks.forEach(v => {
      const py = Math.round(y.getPixelForValue(v)) + 0.5;
      ctx.moveTo(a.right, py);
      ctx.lineTo(a.right + 11, py);
    });
    ctx.stroke();

    // year boundaries
    ctx.lineWidth = 1.5;
    ctx.beginPath();
    yearLines.forEach(t => {
      const px = x.getPixelForValue(t);
      ctx.moveTo(px, o.row === 0 ? a.top - 14 : 0);
      ctx.lineTo(px, a.top);
      ctx.moveTo(px, a.bottom);
      ctx.lineTo(px, o.row === 2 ? a.bottom + 13 : H);
    });
    ctx.stroke();

    ctx.lineWidth = 2.5;
    ctx.strokeRect(a.left, a.top, a.right - a.left, a.bottom - a.top);
    ctx.restore();
  }
};

// ----- Panels -----
const panels = [
  { col: 0, row: 0, title: "North [mm]", sets: [[kitDotYears, kitNorthDots], [kitDotYearsB, kitNorthDotsB]], line: kitNorthLine },
  { col: 0, row: 1, title: "East [mm]", sets: [[kitDotYears, kitEastDots], [kitDotYearsB, kitEastDotsB]], line: kitEastLine },
  { col: 0, row: 2, title: "Up [mm]", sets: [[kitDotYears, kitUpDots], [kitDotYearsB, kitUpDotsB]], line: kitUpLine },
  { col: 1, row: 0, title: "North [mm]", sets: [[nklgDotYears, nklgNorthDots], [nklgDotYearsB, nklgNorthDotsB]], line: nklgNorthLine },
  { col: 1, row: 1, title: "East [mm]", sets: [[nklgDotYears, nklgEastDots], [nklgDotYearsB, nklgEastDotsB]], line: nklgEastLine },
  { col: 1, row: 2, title: "Up [mm]", sets: [[nklgDotYears, nklgUpDots], [nklgDotYearsB, nklgUpDotsB]], line: nklgUpLine }
];

function buildPanel(p) {
  const col = columns[p.col];
  const row = rows[p.row];
  const isBottom = p.row === 2;

  const cv = document.createElement("canvas");
  cv.width = col.w;
  cv.height = row.h;
  cv.style.left = col.x + "px";
  cv.style.top = row.top + "px";
  cv.style.width = col.w + "px";
  cv.style.height = row.h + "px";
  document.body.appendChild(cv);

  const dotPts = [];
  p.sets.forEach(([years, dots]) => {
    years.forEach((t, i) => {
      (dots[i] || []).forEach(v => dotPts.push({ x: t, y: v }));
    });
  });
  const linePts = p.line.map(([t, v]) => ({ x: t, y: v }));

  new Chart(cv, {
    type: "scatter",
    data: {
      datasets: [
        { data: linePts, showLine: true, pointRadius: 0, borderColor: "#0000ff", borderWidth: 2.5, spanGaps: false },
        { data: dotPts, pointRadius: 1.2, backgroundColor: "#ff00ff", borderWidth: 0 }
      ]
    },
    options: {
      responsive: false,
      animation: false,
      events: [],
      layout: { autoPadding: false, padding: { left: 0, right: col.padR, top: row.padT, bottom: row.padB } },
      plugins: {
        legend: { display: false },
        tooltip: { enabled: false },
        panelDecor: { row: p.row, breaks: col.breaks, reds: col.reds, yTicks: col.yTicks }
      },
      scales: {
        x: {
          type: "linear",
          min: xStart,
          max: xEnd,
          display: isBottom,
          afterBuildTicks: s => { s.ticks = yearLabelPos.map(v => ({ value: v })); },
          afterFit: s => {
            if (isBottom) s.height = row.xh;
            s.paddingLeft = 0;
            s.paddingRight = 0;
          },
          border: { display: false },
          grid: { display: false, drawTicks: false },
          ticks: {
            autoSkip: false, maxRotation: 0, padding: 27, color: "#000",
            font: { family: FONT, size: 17 },
            callback: (v, i) => yearLabels[i]
          }
        },
        y: {
          min: col.yMin,
          max: col.yMax,
          afterBuildTicks: s => { s.ticks = col.yTicks.map(v => ({ value: v })); },
          afterFit: s => {
            s.width = 93.3;
            s.paddingTop = 0;
            s.paddingBottom = 0;
          },
          border: { display: false },
          grid: { drawOnChartArea: false, drawTicks: true, tickLength: 11, color: "#000", lineWidth: 1 },
          ticks: {
            autoSkip: false, padding: 17, color: "#000",
            font: { family: FONT, size: 16 },
            callback: v => col.yLabels.includes(v) ? fmt(v) : ""
          },
          title: {
            display: true, text: p.title, color: "#000",
            font: { family: FONT, size: 16, weight: "bold" },
            padding: { top: 12, bottom: 0 }
          }
        }
      }
    },
    plugins: [panelDecor]
  });
}

panels.forEach(buildPanel);
</script>
</body>
</html>
